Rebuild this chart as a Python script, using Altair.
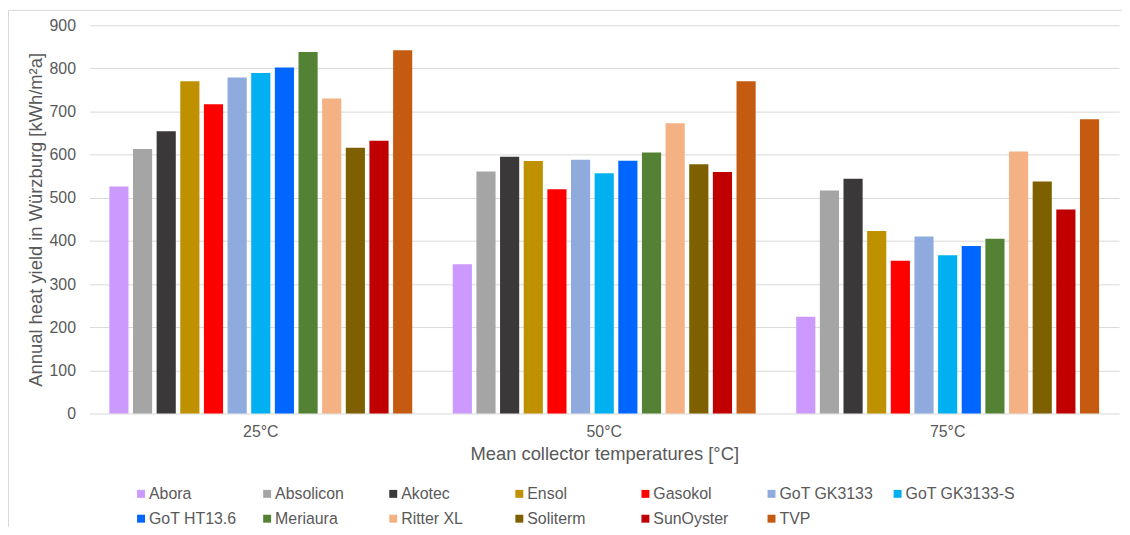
import altair as alt
import pandas as pd

temps = ["25°C", "50°C", "75°C"]
collectors = ["Abora", "Absolicon", "Akotec", "Ensol", "Gasokol", "GoT GK3133",
              "GoT GK3133-S", "GoT HT13.6", "Meriaura", "Ritter XL", "Soliterm",
              "SunOyster", "TVP"]
colors = ["#CC99FF", "#A5A5A5", "#3A3838", "#BF9000", "#FF0000", "#8FAADC",
          "#00B0F0", "#0066FF", "#548235", "#F4B183", "#7F6000", "#C00000", "#C55A11"]
yield_25 = [526, 613, 654, 770, 717, 779, 789, 802, 838, 730, 616, 632, 842]
yield_50 = [346, 561, 595, 585, 520, 588, 557, 586, 605, 673, 578, 560, 770]
yield_75 = [224, 517, 544, 423, 354, 410, 367, 388, 405, 607, 538, 473, 682]
y_ticks = [0, 100, 200, 300, 400, 500, 600, 700, 800, 900]

rows = []
for t, vals in zip(temps, [yield_25, yield_50, yield_75]):
    for c, v in zip(collectors, vals):
        rows.append({"temp": t, "collector": c, "value": v})
df = pd.DataFrame(rows)

FONT = "Liberation Sans"
TXT = "#595959"
GRID = "#D9D9D9"

bars = alt.Chart(df).mark_bar().encode(
    x=alt.X("temp:N", sort=temps,
            scale=alt.Scale(paddingInner=0.118, paddingOuter=0.058),
            axis=alt.Axis(title="Mean collector temperatures [°C]", labelAngle=0,
                          domain=False, ticks=False, labelPadding=10,
                          titlePadding=5)),
    xOffset=alt.XOffset("collector:N", sort=collectors,
                        scale=alt.Scale(paddingInner=0.19, paddingOuter=0)),
    y=alt.Y("value:Q", scale=alt.Scale(domain=[0, 900], nice=False),
            axis=alt.Axis(title="Annual heat yield in Würzburg [kWh/m²a]",
                          values=y_ticks, domain=False, ticks=False,
                          labelPadding=14, titlePadding=4, gridColor=GRID)),
    color=alt.Color("collector:N", sort=collectors,
                    scale=alt.Scale(domain=collectors, range=colors),
                    legend=alt.Legend(title=None, orient="none", legendX=44, legendY=464,
                                      direction="horizontal", columns=7,
                                      gridAlign="all", columnPadding=0, rowPadding=9,
                                      symbolType="square", symbolSize=64,
                                      symbolStrokeWidth=0, labelOffset=0,
                                      labelFontSize=16, labelColor=TXT, labelFont=FONT,
                                      padding=0))
)

frame = alt.Chart(pd.DataFrame({"a": [0]})).mark_rect(
    fill=None, stroke=GRID, strokeWidth=1, clip=False
).encode(x=alt.value(-81.5), x2=alt.value(1200), y=alt.value(-15), y2=alt.value(700))

chart = alt.layer(frame, bars).properties(
    width=1037, height=391,
    autosize=alt.AutoSizeParams(type="none"),
    padding={"left": 82, "top": 15.5, "right": 3, "bottom": 112}
).configure_view(stroke=None).configure_axis(
    labelFont=FONT, labelFontSize=16, labelColor=TXT,
    titleFont=FONT, titleFontSize=18.5, titleColor=TXT, titleFontWeight="normal"
).configure_axisX(grid=False)

chart.save("out.html", embed_options={"renderer": "svg", "actions": False})
